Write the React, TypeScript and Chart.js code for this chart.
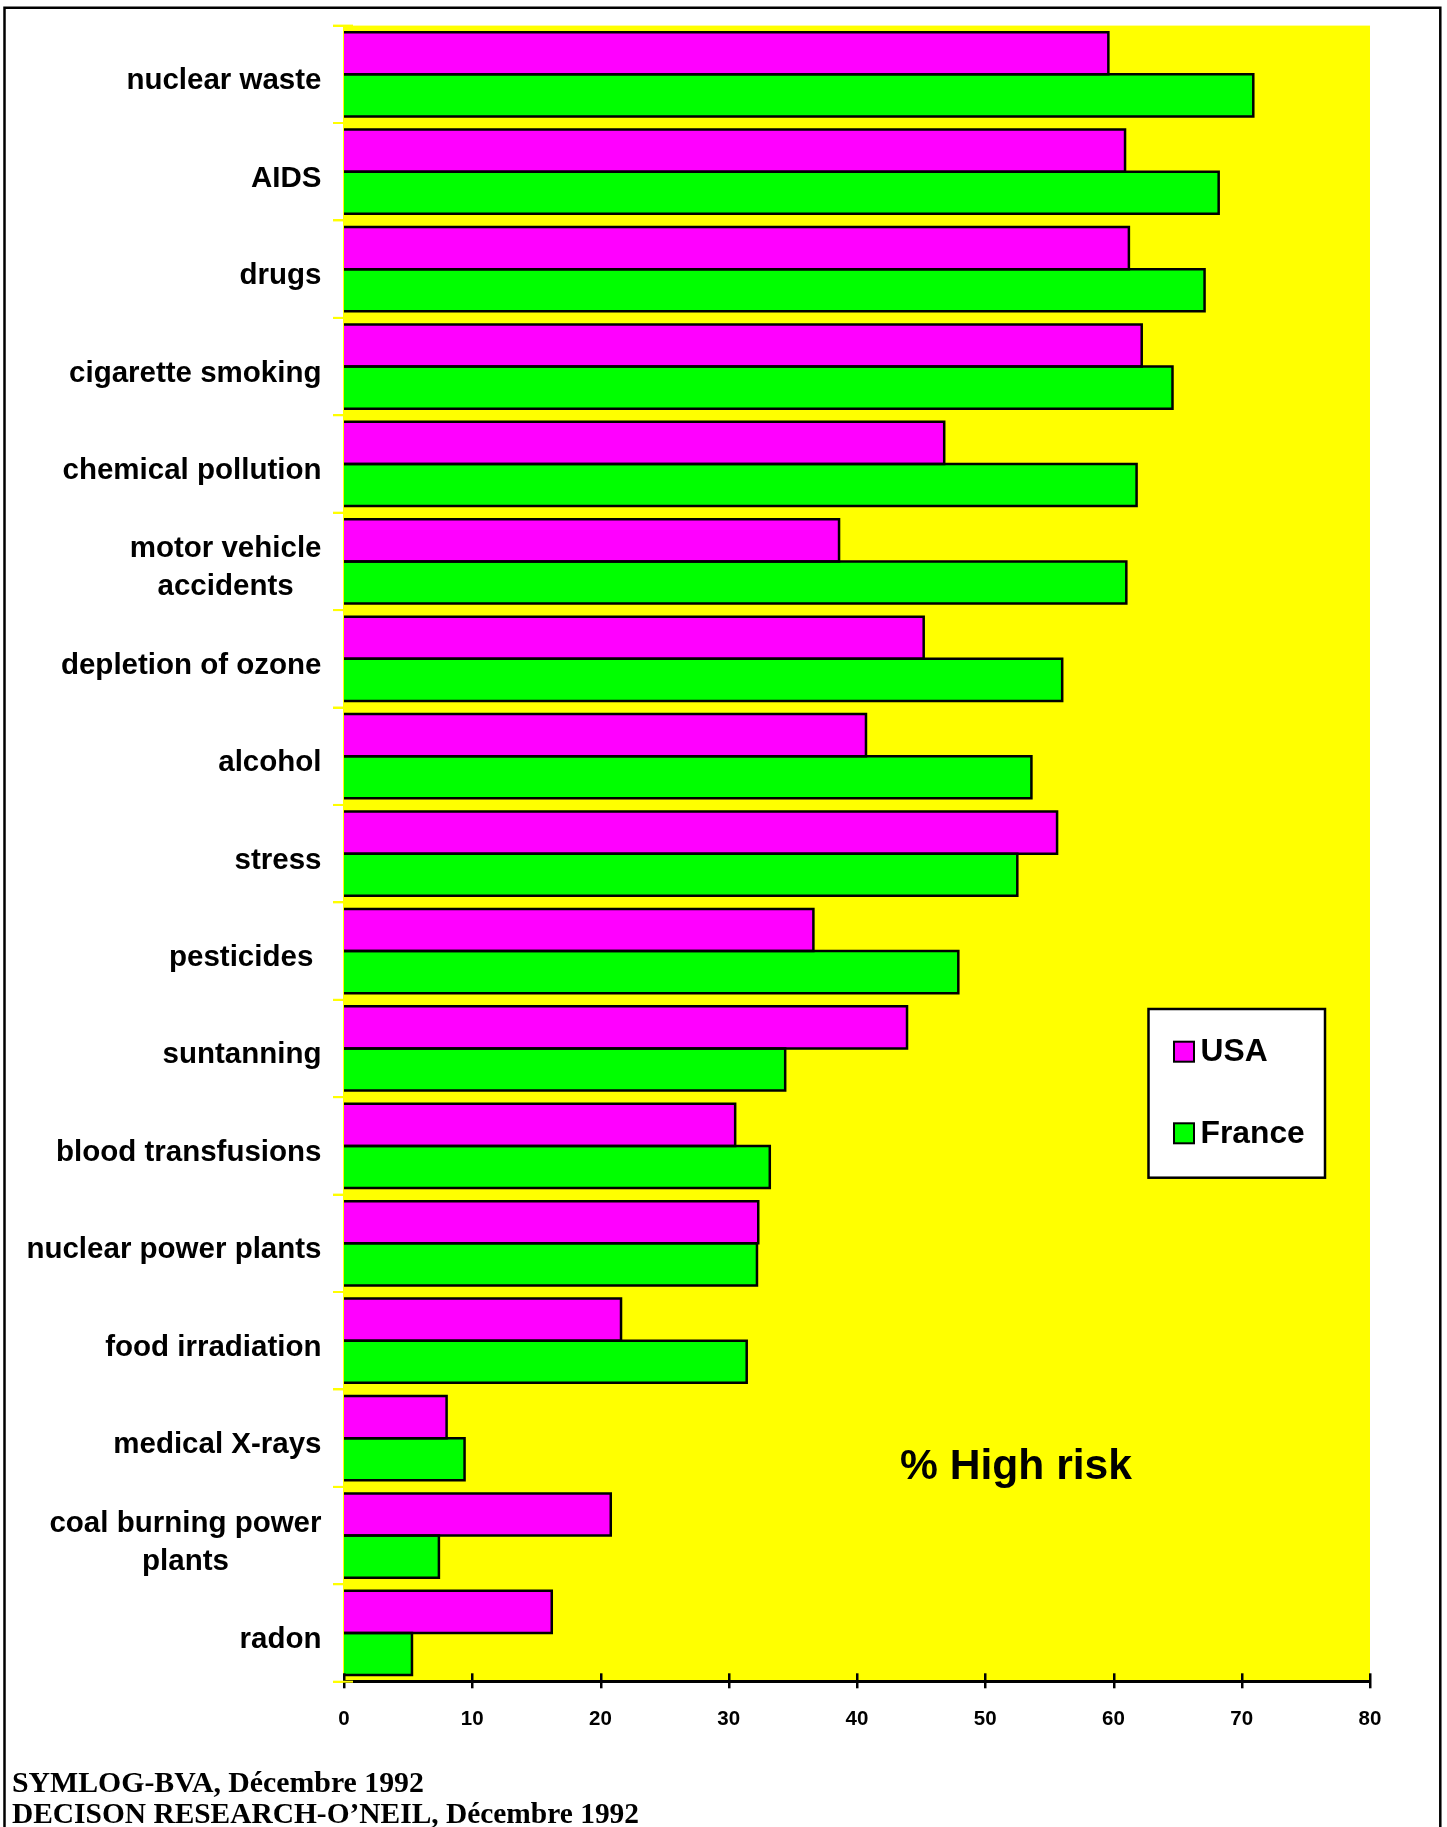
import React, { useEffect, useRef } from 'react';
import { Chart, registerables } from 'chart.js';

Chart.register(...registerables);

const WIDTH = 1447;
const HEIGHT = 1827;

const categories: (string | string[])[] = [
  'nuclear waste',
  'AIDS',
  'drugs',
  'cigarette smoking',
  'chemical pollution',
  ['motor vehicle', 'accidents'],
  'depletion of ozone',
  'alcohol',
  'stress',
  'pesticides ',
  'suntanning',
  'blood transfusions',
  'nuclear power plants',
  'food irradiation',
  'medical X-rays',
  ['coal burning power', 'plants'],
  'radon',
];

const usaValues = [59.6, 60.9, 61.2, 62.2, 46.8, 38.6, 45.2, 40.7, 55.6, 36.6, 43.9, 30.5, 32.3, 21.6, 8.0, 20.8, 16.2];
const franceValues = [70.9, 68.2, 67.1, 64.6, 61.8, 61.0, 56.0, 53.6, 52.5, 47.9, 34.4, 33.2, 32.2, 31.4, 9.4, 7.4, 5.3];

const seriesNames = ['USA', 'France'];
const seriesColors = ['#ff00ff', '#00ff00'];

const xTickValues = [0, 10, 20, 30, 40, 50, 60, 70, 80];

const annotationText = '% High risk';
const sourceLines = ['SYMLOG-BVA, Décembre 1992', 'DECISON RESEARCH-O\u2019NEIL, Décembre 1992'];

const YELLOW = '#ffff00';
const SANS = '"Liberation Sans", Arial, Helvetica, sans-serif';
const SERIF = '"Liberation Serif", "Times New Roman", serif';

// Yellow fill behind the plotting area.
const plotBackground = {
  id: 'plotBackground',
  beforeDraw(chart: any) {
    const { ctx, chartArea: a } = chart;
    ctx.save();
    ctx.fillStyle = YELLOW;
    ctx.fillRect(a.left, a.top, a.right - a.left, a.bottom - a.top);
    ctx.restore();
  },
};

// Bar outlines stroked on the edges so neighbouring bars share one line.
const barOutlines = {
  id: 'barOutlines',
  afterDatasetsDraw(chart: any) {
    const { ctx } = chart;
    ctx.save();
    ctx.strokeStyle = '#000';
    ctx.lineWidth = 2.5;
    ctx.lineJoin = 'miter';
    chart.data.datasets.forEach((_ds: any, i: number) => {
      const meta = chart.getDatasetMeta(i);
      meta.data.forEach((el: any) => {
        const { x, y, base, height } = el.getProps(['x', 'y', 'base', 'height'], true);
        const top = y - height / 2;
        const bottom = y + height / 2;
        ctx.beginPath();
        ctx.moveTo(base, top);
        ctx.lineTo(x, top);
        ctx.lineTo(x, bottom);
        ctx.lineTo(base, bottom);
        ctx.stroke();
      });
    });
    ctx.restore();
  },
};

// Category labels: block right-aligned against the axis, lines centred inside the block.
const categoryLabels = {
  id: 'categoryLabels',
  afterDraw(chart: any) {
    const { ctx } = chart;
    const yScale = chart.scales.y;
    const right = 321.5;
    const lineHeight = 38;
    ctx.save();
    ctx.fillStyle = '#000';
    ctx.font = `bold 29.5px ${SANS}`;
    ctx.textBaseline = 'middle';
    chart.data.labels.forEach((label: string | string[], i: number) => {
      const lines = Array.isArray(label) ? label : [label];
      const cy = yScale.getPixelForValue(i) + 6.8;
      if (lines.length === 1) {
        ctx.textAlign = 'right';
        ctx.fillText(lines[0], right, cy);
        return;
      }
      const blockW = Math.max(...lines.map((l) => ctx.measureText(l).width));
      const cx = right - blockW / 2;
      ctx.textAlign = 'center';
      const y0 = cy - ((lines.length - 1) * lineHeight) / 2;
      lines.forEach((l, k) => ctx.fillText(l, cx, y0 + k * lineHeight));
    });
    ctx.restore();
  },
};

// Axis decorations: ticks crossing the x axis, yellow category marks, annotation, legend, sources, frame.
const decorations = {
  id: 'decorations',
  afterDraw(chart: any) {
    const { ctx, chartArea: a } = chart;
    const xScale = chart.scales.x;
    const yScale = chart.scales.y;
    ctx.save();

    // x-axis ticks through the axis line
    ctx.strokeStyle = '#000';
    ctx.lineWidth = 2.5;
    xScale.ticks.forEach((t: any) => {
      const px = Math.round(xScale.getPixelForValue(t.value)) + 0.25;
      ctx.beginPath();
      ctx.moveTo(px, a.bottom - 8.4);
      ctx.lineTo(px, a.bottom + 6.6);
      ctx.stroke();
    });

    // yellow category boundary marks continuing inside the plot
    const n = chart.data.labels.length;
    const step = (yScale.getPixelForValue(n - 1) - yScale.getPixelForValue(0)) / (n - 1);
    ctx.strokeStyle = YELLOW;
    ctx.lineWidth = 2;
    for (let i = 0; i <= n; i++) {
      const py = yScale.getPixelForValue(0) - step / 2 + i * step;
      ctx.beginPath();
      ctx.moveTo(a.left - 11, py);
      ctx.lineTo(a.left + 9, py);
      ctx.stroke();
    }

    // annotation
    ctx.fillStyle = '#000';
    ctx.font = `bold 42.6px ${SANS}`;
    ctx.textAlign = 'left';
    ctx.textBaseline = 'alphabetic';
    ctx.fillText(annotationText, 900, 1479);

    // legend
    const lx = 1148.5;
    const ly = 1009;
    const lw = 176.5;
    const lh = 168.7;
    ctx.fillStyle = '#fff';
    ctx.fillRect(lx, ly, lw, lh);
    ctx.strokeStyle = '#000';
    ctx.lineWidth = 2.5;
    ctx.strokeRect(lx, ly, lw, lh);
    const baselines = [1060.5, 1142.7];
    chart.data.datasets.forEach((ds: any, i: number) => {
      const b = baselines[i];
      const sy = i === 0 ? 1041.7 : 1123.3;
      ctx.fillStyle = ds.backgroundColor;
      ctx.fillRect(1174, sy, 20, 20);
      ctx.strokeStyle = '#000';
      ctx.lineWidth = 2;
      ctx.strokeRect(1174, sy, 20, 20);
      ctx.fillStyle = '#000';
      ctx.font = `bold 31.8px ${SANS}`;
      ctx.fillText(ds.label, 1200.5, b);
    });

    // sources
    ctx.font = `bold 29.8px ${SERIF}`;
    ctx.fillText(sourceLines[0], 12, 1791.7);
    ctx.fillText(sourceLines[1], 12, 1823.3, 627);

    // frame
    ctx.strokeStyle = '#000';
    ctx.lineWidth = 2.5;
    ctx.beginPath();
    ctx.moveTo(4.5, HEIGHT + 20);
    ctx.lineTo(4.5, 7.8);
    ctx.lineTo(1440.3, 7.8);
    ctx.lineTo(1440.3, HEIGHT + 20);
    ctx.stroke();

    ctx.restore();
  },
};

export default function App() {
  const canvasRef = useRef<HTMLCanvasElement | null>(null);

  useEffect(() => {
    if (!canvasRef.current) return;
    const chart = new Chart(canvasRef.current, {
      type: 'bar',
      data: {
        labels: categories,
        datasets: [
          {
            label: seriesNames[0],
            data: usaValues,
            backgroundColor: seriesColors[0],
            borderWidth: 0,
            categoryPercentage: 0.865,
            barPercentage: 1,
          },
          {
            label: seriesNames[1],
            data: franceValues,
            backgroundColor: seriesColors[1],
            borderWidth: 0,
            categoryPercentage: 0.865,
            barPercentage: 1,
          },
        ],
      },
      options: {
        indexAxis: 'y',
        responsive: false,
        animation: false,
        devicePixelRatio: 1,
        layout: { padding: { top: 25.6, right: 77, bottom: 0, left: 0 } },
        plugins: {
          legend: { display: false },
          tooltip: { enabled: false },
          title: { display: false },
        },
        scales: {
          x: {
            type: 'linear',
            min: 0,
            max: 80,
            afterBuildTicks(scale: any) {
              scale.ticks = xTickValues.map((v) => ({ value: v }));
            },
            ticks: {
              color: '#000',
              font: { family: SANS, size: 20.5, weight: 'bold' },
              padding: 25,
            },
            grid: { display: false, drawTicks: false },
            border: { display: true, color: '#000', width: 3 },
            afterFit(scale: any) {
              scale.height = HEIGHT - 1681.7;
            },
          },
          y: {
            type: 'category',
            offset: true,
            z: 1,
            ticks: { display: false },
            grid: {
              display: true,
              offset: true,
              drawOnChartArea: false,
              drawTicks: true,
              tickLength: 11,
              color: YELLOW,
              lineWidth: 2,
            },
            border: { display: true, color: YELLOW, width: 2 },
            afterFit(scale: any) {
              scale.width = 344;
            },
          },
        },
      } as any,
      plugins: [plotBackground, barOutlines, categoryLabels, decorations],
    });
    return () => chart.destroy();
  }, []);

  return (
    <div style={{ position: 'absolute', left: 0, top: 0, width: WIDTH, height: HEIGHT, background: '#fff' }}>
      <canvas ref={canvasRef} width={WIDTH} height={HEIGHT} style={{ display: 'block' }} />
    </div>
  );
}
